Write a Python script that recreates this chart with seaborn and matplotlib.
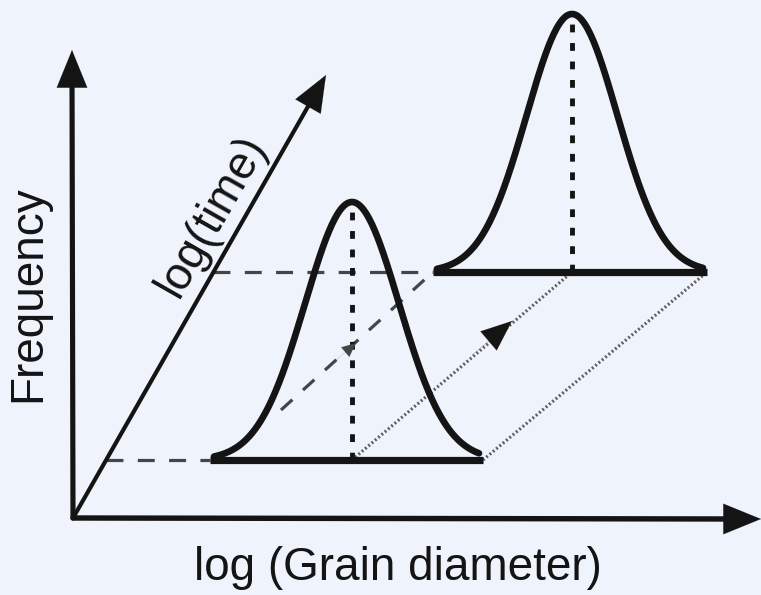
import numpy as np
import pandas as pd
import matplotlib
matplotlib.use("Agg")
import matplotlib.pyplot as plt
import seaborn as sns

# ---- schematic data (pixel-like canvas units, y downwards) ----
origin = [73, 518]
y_axis_tip = [72, 50]
x_axis_tip = [761, 519]
time_axis_tip = [326, 75]

# two grain-size distributions: centre, sigma, baseline, peak height, base extent
dist_names = ["early", "late"]
dist_centre = [352, 572]
dist_sigma = [47, 45.5]
dist_baseline = [460, 272]
dist_height = [258, 258]
dist_left = [210, 433]
dist_right = [483, 707]

# guide lines
time_to_base_x = [106, 213]          # where the time axis meets each baseline level
dashed_diag_start = [281, 410]
dotted_arrow_tip = [512, 321]
dashed_arrow_tip = [356, 343]

labels = {"x": "log (Grain diameter)", "y": "Frequency", "t": "log(time)"}

sns.set_theme(style="white")
plt.rcParams["font.family"] = ["Liberation Sans", "DejaVu Sans"]

bg = "#EEF3FC"
ink = "#141414"
gray = "#454545"
dotc = "#5e5e5e"

fig = plt.figure(figsize=(7.61, 5.95), dpi=100, facecolor=bg)
ax = fig.add_axes([0, 0, 1, 1])
ax.set_facecolor(bg)
ax.set_xlim(0, 761)
ax.set_ylim(595, 0)
ax.axis("off")

def seg(p, q, **kw):
    df = pd.DataFrame({"x": [p[0], q[0]], "y": [p[1], q[1]]})
    sns.lineplot(data=df, x="x", y="y", ax=ax, sort=False, estimator=None, **kw)

# horizontal dashed guides from time axis to the baselines
for tx, bl, lft in zip(time_to_base_x, dist_baseline, dist_left):
    seg([tx, bl], [lft, bl], color=gray, lw=2.3, dashes=(5.3, 4.5))

# dashed diagonal between left ends
seg(dashed_diag_start, [dist_left[1], dist_baseline[1]], color=gray, lw=2.3, dashes=(4.8, 4.5))

# dotted diagonals connecting the peaks' bases and the right ends
seg([dist_centre[0], dist_baseline[0]], [dist_centre[1], dist_baseline[1]], color=dotc, lw=2.3, dashes=(0.6, 0.75))
seg([dist_right[0], dist_baseline[0]], [dist_right[1], dist_baseline[1]], color=dotc, lw=2.3, dashes=(0.6, 0.75))

# distributions
for c, s, b, h, l, r in zip(dist_centre, dist_sigma, dist_baseline, dist_height, dist_left, dist_right):
    xs = np.linspace(l + 4, r - 4, 300)
    ys = b - h * np.exp(-0.5 * ((xs - c) / s) ** 2)
    sns.lineplot(x=xs, y=ys, ax=ax, sort=False, estimator=None, color=ink, lw=4.8)
    seg([l, b], [r, b], color=ink, lw=5.2, solid_capstyle="butt")
    seg([c, b], [c, b - h + 4], color=ink, lw=3.5, dashes=(1.6, 2.2))

# axes with arrowheads
seg(origin, [y_axis_tip[0], y_axis_tip[1] + 20], color=ink, lw=3.7)
seg(origin, [x_axis_tip[0] - 20, x_axis_tip[1]], color=ink, lw=3.9)
seg(origin, [origin[0] + (time_axis_tip[0] - origin[0]) * 0.93,
             origin[1] + (time_axis_tip[1] - origin[1]) * 0.93], color=ink, lw=3.0)

def head(tip, frm, hl, hw, color=ink):
    ax.annotate("", xy=tip, xytext=frm, xycoords="data",
                arrowprops=dict(arrowstyle=f"-|>,head_length={hl},head_width={hw}",
                                color=color, lw=0.1, shrinkA=0, shrinkB=0,
                                mutation_scale=10))

head(y_axis_tip, [y_axis_tip[0], y_axis_tip[1] + 60], 2.7, 1.1)
head(x_axis_tip, [x_axis_tip[0] - 60, x_axis_tip[1]], 2.7, 1.1)
head(time_axis_tip, [origin[0] + (time_axis_tip[0] - origin[0]) * 0.85,
                     origin[1] + (time_axis_tip[1] - origin[1]) * 0.85], 2.6, 1.05)
head(dotted_arrow_tip, [dotted_arrow_tip[0] - 40, dotted_arrow_tip[1] + 34], 2.2, 0.9)
head(dashed_arrow_tip, [dashed_arrow_tip[0] - 20, dashed_arrow_tip[1] + 17], 1.0, 0.45, color=gray)

# labels
ax.text(398, 568, labels["x"], ha="center", va="center", fontsize=33, color=ink)
ax.text(28, 294, labels["y"], ha="center", va="center", rotation=90, fontsize=33, color=ink)
ax.text(212, 216, labels["t"], ha="center", va="center", rotation=60.3,
        rotation_mode="anchor", fontsize=33, color=ink)

fig.savefig("out.png", dpi=100, facecolor=bg)
